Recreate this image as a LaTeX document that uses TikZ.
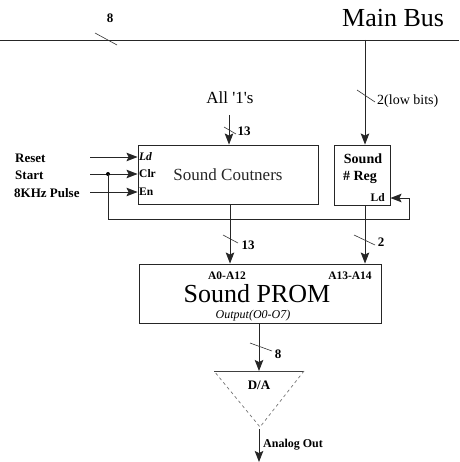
\documentclass[tikz,border=0pt]{standalone}
\usepackage{fontspec}
\setmainfont{Liberation Serif}
\usetikzlibrary{arrows.meta}
\tikzset{
  x=1pt,y=-1pt,
  wire/.style={line width=0.9pt,black!85},
  arr/.style={wire,-{Stealth[length=11pt,width=8.5pt,inset=2pt]}},
  box/.style={draw,line width=0.9pt,black!85,inner sep=0pt,minimum width=#1},
  busslash/.style={line width=0.6pt,black!80},
  lbl/.style={font=\fontsize{13}{14}\selectfont\bfseries,inner sep=0pt},
  plbl/.style={font=\fontsize{11.5}{12}\selectfont\bfseries,inner sep=0pt},
  big/.style={font=\fontsize{26}{28}\selectfont,inner sep=0pt},
}
\begin{document}
\begin{tikzpicture}
\useasboundingbox (0,0) rectangle (459,462);
% main bus
\coordinate (busL) at (0,40);
\coordinate (busR) at (459,40);
\draw[wire] (busL) -- (busR);
\coordinate (bs1) at (95,33); \coordinate (bs2) at (117,45);
\draw[busslash] (bs1) -- (bs2);
\node[lbl] (n8a) at (110,18) {8};
\node[big,anchor=west] (mainbus) at (342,18) {Main Bus};

% boxes
\node[box=180pt,minimum height=59pt] (counters) at (228,174.5) {\fontsize{17}{18}\selectfont Sound Coutners};
\node[box=56pt,minimum height=60pt] (reg) at (362,175) {};
\node[box=242pt,minimum height=59pt] (prom) at (260,293.5) {};

% reg texts
\node[font=\fontsize{14}{15}\selectfont\bfseries,inner sep=0pt] (rsound) at (363,159) {Sound};
\node[font=\fontsize{14}{15}\selectfont\bfseries,inner sep=0pt] (rreg) at (360,177) {\# Reg};
\node[plbl,anchor=east] (rld) at (385,198) {Ld};

% counters port labels
\node[plbl,anchor=west] (cld) at (139,157) {\itshape Ld};
\node[plbl,anchor=west] (cclr) at (139,174) {Clr};
\node[plbl,anchor=west] (cen) at (139,192) {En};

% input labels
\node[lbl,anchor=west] (reset) at (15,158) {Reset};
\node[lbl,anchor=west] (start) at (15,175) {Start};
\node[lbl,anchor=west] (pulse) at (14,193) {8KHz Pulse};
\coordinate (in1) at (90,157);
\coordinate (in2) at (90,174);
\coordinate (in3) at (90,192);
\draw[arr] (in1) -- (in1 -| counters.west);
\draw[arr] (in2) -- (in2 -| counters.west);
\draw[arr] (in3) -- (in3 -| counters.west);

% feedback from Start to reg Ld
\coordinate (dot) at (108,174);
\fill (dot) circle (2pt);
\coordinate (fb1) at (108,219);
\coordinate (fb2) at (409,219);
\coordinate (fb3) at (409,198);
\draw[wire] (dot) -- (fb1) -- (fb2) -- (fb3);
\draw[arr] (fb3) -- (fb3 -| reg.east);

% All 1's
\node[font=\fontsize{17}{18}\selectfont,inner sep=0pt] (allones) at (230,98) {All \textquotesingle1\textquotesingle s};
\coordinate (a13top) at (229,115);
\draw[arr] (a13top) -- (a13top |- counters.north);
\coordinate (s13a) at (224,127); \coordinate (s13b) at (236,134);
\draw[busslash] (s13a) -- (s13b);
\node[lbl] (l13a) at (244,131) {13};

% bus tap to reg
\coordinate (tap) at (365,40);
\draw[arr] (tap) -- (tap |- reg.north);
\coordinate (s2a) at (357,90); \coordinate (s2b) at (375,102);
\draw[busslash] (s2a) -- (s2b);
\node[font=\fontsize{14}{15}\selectfont,inner sep=0pt,anchor=west] (lowbits) at (377,101) {2(low bits)};

% counters -> prom
\coordinate (c13) at (230,204);
\draw[arr] (c13) -- (c13 |- prom.north);
\coordinate (s13c) at (223,235); \coordinate (s13d) at (238,243);
\draw[busslash] (s13c) -- (s13d);
\node[lbl] (l13b) at (248,245) {13};

% reg -> prom
\coordinate (r2) at (365,205);
\draw[arr] (r2) -- (r2 |- prom.north);
\coordinate (s2c) at (354,235); \coordinate (s2d) at (375,245);
\draw[busslash] (s2c) -- (s2d);
\node[lbl] (l2) at (381,242) {2};

% prom texts
\node[plbl] (a012) at (227,276) {A0-A12};
\node[plbl] (a1314) at (350,276) {A13-A14};
\node[big,anchor=base] (promtxt) at (257,302) {Sound PROM};
\node[font=\fontsize{12}{13}\selectfont\itshape,inner sep=0pt] (outtxt) at (253,316) {Output(O0-O7)};

% prom -> D/A
\coordinate (tl) at (214,371);
\coordinate (tr) at (304,371);
\coordinate (apex) at (260,427);
\coordinate (pout) at (259,323);
\draw[arr] (pout) -- (pout |- tl);
\coordinate (s8a) at (250,343); \coordinate (s8b) at (272,351);
\draw[busslash] (s8a) -- (s8b);
\node[lbl] (l8b) at (278,354) {8};
\draw[line width=0.9pt,black!75] (tl) -- (tr);
\draw[line width=0.7pt,black!55,dash pattern=on 3pt off 3pt] (tr) -- (apex) -- (tl);
\node[lbl] (da) at (259,385) {D/A};

% analog out
\coordinate (aout) at (259,429);
\coordinate (aend) at (259,462);
\draw[arr] (aout) -- (aend);
\node[font=\fontsize{12}{13}\selectfont\bfseries,inner sep=0pt,anchor=west] (analog) at (263,445) {Analog Out};
\end{tikzpicture}
\end{document}
